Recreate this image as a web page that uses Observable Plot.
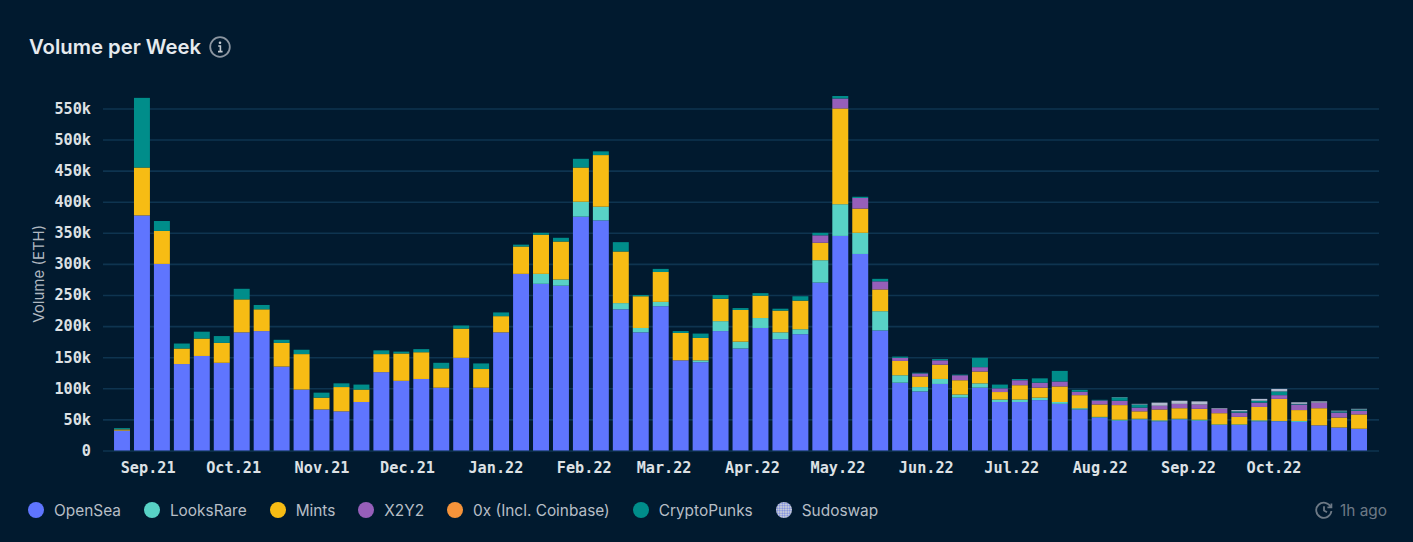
<!DOCTYPE html>
<html>
<head>
<meta charset="utf-8">
<script src="https://cdn.jsdelivr.net/npm/d3@7"></script>
<script src="https://cdn.jsdelivr.net/npm/@observablehq/plot@0.6"></script>
<style>
  html,body{margin:0;padding:0;background:#011a2f;width:1413px;height:542px;overflow:hidden;font-family:Inter,sans-serif}
  #page{position:relative;width:1413px;height:542px;background:#011a2f}
  #title{position:absolute;left:29px;top:35px;font-size:20.3px;line-height:24px;font-weight:600;color:#e6eaee;display:flex;align-items:center;gap:8px;white-space:nowrap}
  #chart{position:absolute;left:0;top:80px}
  #chart svg{display:block}
  #legend{position:absolute;left:28px;top:498px;height:24px;display:flex;align-items:center;gap:23px;font-size:15.4px;color:#b7bec6;white-space:nowrap}
  .item{display:flex;align-items:center;gap:10px}
  .dot{width:16px;height:16px;border-radius:50%;display:block}
  #age{position:absolute;right:26px;top:498px;height:24px;display:flex;align-items:center;gap:7px;font-size:15.4px;color:#6d7985}
</style>
</head>
<body>
<div id="page">
  <div id="title"><span>Volume per Week</span>
    <svg width="22" height="22" viewBox="0 0 22 22"><circle cx="11" cy="11" r="9.8" fill="none" stroke="#8b95a0" stroke-width="1.8"/><circle cx="11" cy="6.8" r="1.3" fill="#c4cad0"/><path d="M9.2 10h2.2v5.4M9 15.6h4.6" fill="none" stroke="#c4cad0" stroke-width="1.6"/></svg>
  </div>
  <div id="chart"></div>
  <div id="legend"></div>
  <div id="age">
    <svg width="18" height="18" viewBox="0 0 18 18" fill="none" stroke="#6d7985" stroke-width="1.8"><path d="M15.8 6.2A7.6 7.6 0 1 0 16.4 10"/><path d="M16.4 2.4v4h-4"/><path d="M9 5.2V9.4l3 1.8"/></svg>
    <span>1h ago</span>
  </div>
</div>
<script>
const seriesNames = ["OpenSea","LooksRare","Mints","X2Y2","0x (Incl. Coinbase)","CryptoPunks","Sudoswap"];
const seriesColors = ["#5f75fe","#58d2c6","#f7bc14","#965fba","#f5933a","#008d8a","#b3bbd0"];
const monthTicks = ["2021-09-01","2021-10-01","2021-11-01","2021-12-01","2022-01-01","2022-02-01","2022-03-01","2022-04-01","2022-05-01","2022-06-01","2022-07-01","2022-08-01","2022-09-01","2022-10-01"];
const yTicks = [0,50,100,150,200,250,300,350,400,450,500,550];
const firstWeek = "2021-08-23";

// weekly volume in thousands of ETH, 63 weeks
const openSea = [32,378,300,139,152,141,190,192,135,98,66,63,78,126,112,115,101,149,101,190,284,268,265,376,370,227,190,232,145,142,192,164,197,179,187,270,345,316,193,109,95,107,85,101,78,78,81,75,66,53,48,50,47,50,48,41,41,47,47,46,40.5,37,35];
const looksRare = [0,0,0,0,0,0,0,0,0,0,0,0,0,0,0,0,0,0,0,0,0,16,10,24,22,10,7,7,0,3,16,11,16,11,8,36,51,34,31,12,7,8,5,7,4,4,4,3,2,1,1.5,1,1.5,1,1.5,1,1,1.5,0.5,1.5,0,0,0];
const mints = [1.5,77,53,25,28,32,53,35,38,57,19,39,20,29,44,43,31,47,30,26,44,63,61,55,83,83,51,48,44,36,36,51,36,35,46,28,154,39,35,23,17,23,23,19,12,23,16,25,21,20,23.5,12,17.5,17,17.5,18,12,21.5,35.5,17.5,27.5,16,23];
const x2y2 = [0,0,0,0,0,0,0,0,0,0,0,0,0,0,0,0,0,0,0,0,0,0,0,0,0,0,0,0,0,0,0,0,0,0,0,12,16,17,13,5,5,7,8,7,6,8,8,8,5.5,6.5,7,6,6,7,7,7,7,7,6,9,9,8,6];
const zeroX = [0.5,0,0,0,0,0,0,0,0,0,0,0,0,0,0,0,0,0,0,0,0,0,0,0,0,0,0,0,0,0,0,0,0,0,0,0,0,0,0,0,0,0,0,0,0,0,0,0,0,0,0,0,0,0,0,0,0,0,0,0,0,0,0];
const cryptoPunks = [2,112,16,8,11,11,17,7,5,7,8,6,8,6,3,5,9,5,9,6,3,3,6,14,6,15,2,5,3,7,6,3,4,3,7,4,4,2,4,2,1,2,1,15,6,2,7,17,3,1,5.5,5,0,0,0,0,2,3,6,1,0,2,2];
const sudoswap = [0,0,0,0,0,0,0,0,0,0,0,0,0,0,0,0,0,0,0,0,0,0,0,0,0,0,0,0,0,0,0,0,0,0,0,0,0,0,0,0,0,0,0,0,0,0,0,0,0,0,0.5,1,5,5,5,1,2,3,4,2.5,2,1,1];
const seriesValues = [openSea,looksRare,mints,x2y2,zeroX,cryptoPunks,sudoswap];

const start = new Date(firstWeek + "T00:00Z");
const halfWeekHours = 84;
const rows = seriesNames.flatMap((name, s) =>
  seriesValues[s].map((value, i) => {
    const week = d3.utcWeek.offset(start, i);
    return {series: name, week, start: d3.utcHour.offset(week, -halfWeekHours), end: d3.utcHour.offset(week, halfWeekHours), value};
  }).filter(d => d.value > 0));

const tickDates = monthTicks.map(d => new Date(d + "T00:00Z"));
const monoFont = "'DejaVu Sans Mono','Liberation Mono',monospace";

const plot = Plot.plot({
  width: 1413, height: 400,
  marginLeft: 103, marginRight: 34, marginTop: 16, marginBottom: 29.5,
  style: {background: "transparent", overflow: "visible"},
  x: {type: "utc", domain: [new Date("2021-08-16T08:00Z"), new Date("2022-11-07T00:00Z")]},
  y: {domain: [0, 570]},
  color: {domain: seriesNames, range: seriesColors},
  marks: [
    Plot.gridY(yTicks, {stroke: "#0e3450", strokeOpacity: 1, strokeWidth: 1.6}),
    Plot.rect(rows, Plot.stackY({x: "week", x1: "start", x2: "end", y: "value", z: "series", fill: "series", insetLeft: 2, insetRight: 2})),
    Plot.axisX({ticks: tickDates, tickFormat: d3.utcFormat("%b.%y"), tickSize: 0, tickPadding: 11, label: null, fontSize: 15.2, fontWeight: 600, fontFamily: monoFont, color: "#dde1e5"}),
    Plot.axisY({ticks: yTicks, tickFormat: d => d === 0 ? "0" : d + "k", tickSize: 0, tickPadding: 12.5, label: null, fontSize: 15.2, fontWeight: 600, fontFamily: monoFont, color: "#dde1e5"}),
    Plot.axisY({ticks: [], tickSize: 0, label: "Volume (ETH)", labelAnchor: "center", labelArrow: "none", labelOffset: 70, fontSize: 15, fontFamily: "Inter, sans-serif", color: "#b0b8c0"})
  ]
});
document.getElementById("chart").appendChild(plot);

const legend = document.getElementById("legend");
seriesNames.forEach((name, i) => {
  const item = document.createElement("div"); item.className = "item";
  const dot = document.createElement("span"); dot.className = "dot";
  dot.style.background = seriesColors[i];
  if (name === "Sudoswap") {
    dot.style.background = "radial-gradient(circle,#6f82e0 45%,#c6ccd8 50%) 0 0/2.5px 2.5px";
  }
  const label = document.createElement("span"); label.textContent = name;
  item.append(dot, label); legend.append(item);
});
</script>
</body>
</html>
